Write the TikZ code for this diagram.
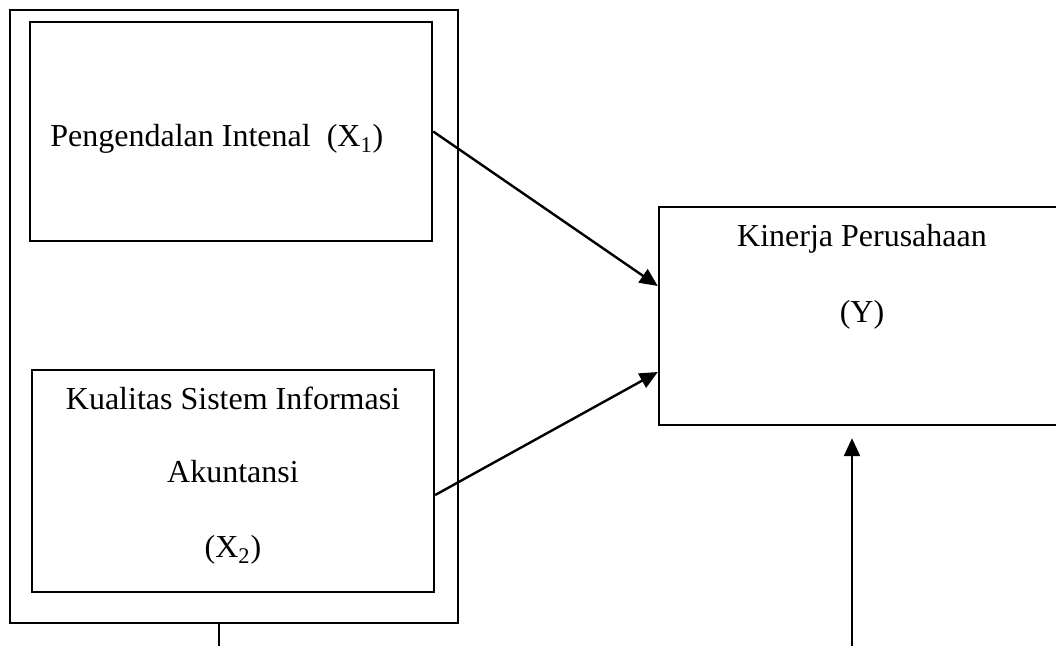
\documentclass[tikz,border=0pt]{standalone}
\usepackage{fontspec}
\setmainfont{Liberation Serif}
\usepackage{tikz}
\usetikzlibrary{fit,calc,arrows.meta}
\tikzset{
    plain-box/.style = {draw=black, line width=1.2pt, rectangle, inner sep=0pt},
    box-text/.style = {font=\fontsize{16pt}{19pt}\selectfont, inner sep=0pt},
    arrow-line/.style = {draw=black, line width=1.2pt, -{Triangle[length=9pt, width=8pt]}},
}

\begin{document}
\begin{tikzpicture}[x=0.5pt, y=-0.5pt]
\useasboundingbox (0,0) rectangle (1056,646);
\clip (0,0) rectangle (1056,646);
% boxes
\node [plain-box, fit={(10,10) (458,623)}] (outer) {};
\node [plain-box, fit={(30,22) (432,241)}] (x1) {};
\node [plain-box, fit={(32,370) (434,592)}] (x2) {};
\node [plain-box, fit={(659,207) (1090,425)}] (y) {};
% texts
\node [box-text, anchor=base west] (x1-label) at (50,147) {Pengendalan Intenal\ \ (X\textsubscript{1})};
\node [box-text, anchor=base] (x2-line1) at (233,410) {Kualitas Sistem Informasi};
\node [box-text, anchor=base] (x2-line2) at (233,483) {Akuntansi};
\node [box-text, anchor=base] (x2-line3) at (233,558) {(X\textsubscript{2})};
\node [box-text, anchor=base] (y-line1) at (862,247) {Kinerja Perusahaan};
\node [box-text, anchor=base] (y-line2) at (862,323) {(Y)};
% connectors
\coordinate (z1) at (219,660);
\coordinate (z2) at (852,660);
\draw [line width=1.2pt] (z1 |- outer.south) -- (z1);
\draw [arrow-line] (x1.east) -- ([yshift=15pt]y.west);
\draw [arrow-line] ([yshift=-7pt]x2.east) -- ([yshift=-28pt]y.west);
\draw [arrow-line] (z2) -- ($(z2 |- y.south)+(0,12)$);
\end{tikzpicture}
\end{document}
